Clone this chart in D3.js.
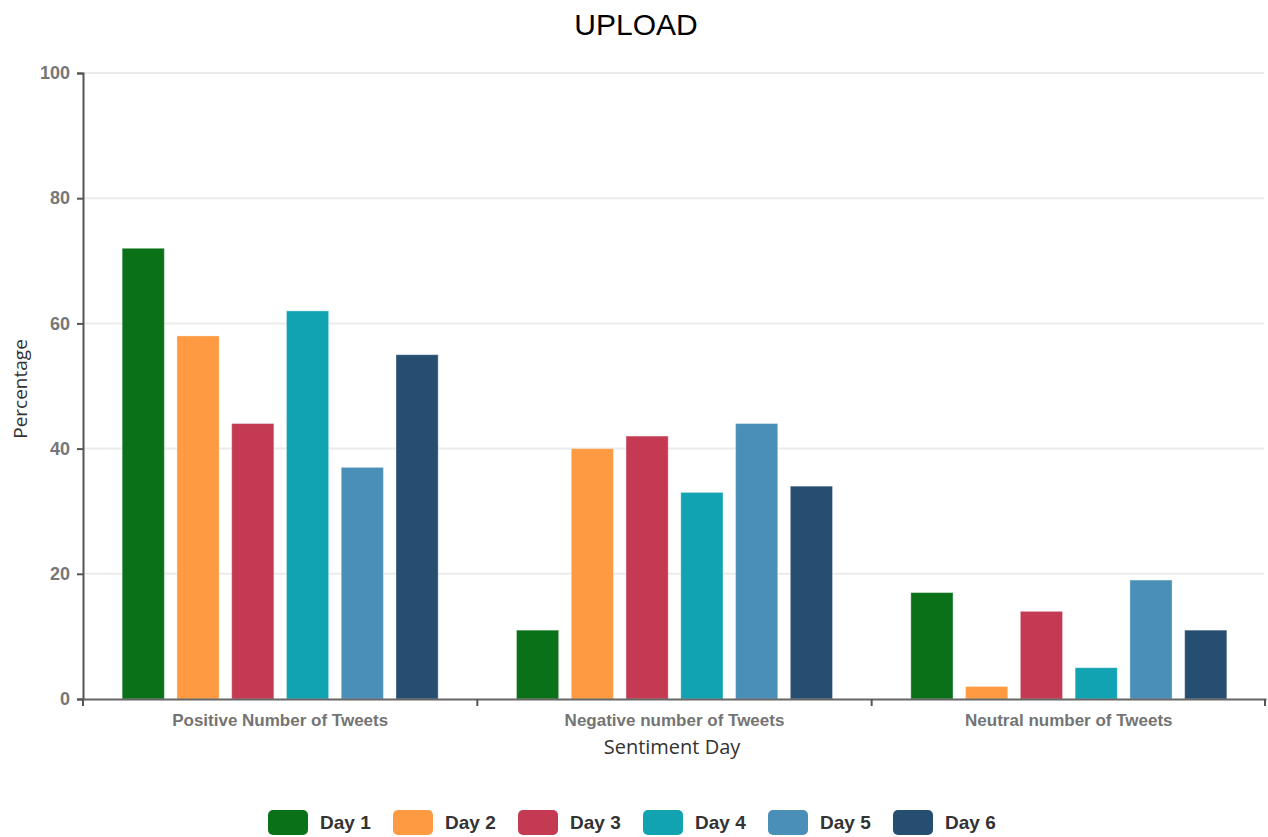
<!DOCTYPE html>
<html>
<head>
<meta charset="utf-8">
<script src="https://cdn.jsdelivr.net/npm/d3@7"></script>
<style>
  body { margin: 0; background: #fff; }
  svg { display: block; font-family: "Liberation Sans", Arial, sans-serif; }
</style>
</head>
<body>
<svg id="chart" width="1268" height="837"></svg>
<script>
// Sentiment categories along the x axis
const categories = ["Positive Number of Tweets", "Negative number of Tweets", "Neutral number of Tweets"];
// One series per day
const seriesNames = ["Day 1", "Day 2", "Day 3", "Day 4", "Day 5", "Day 6"];
const seriesColors = ["#0a7119", "#fe9a41", "#c43a52", "#11a3b2", "#4a8fb8", "#264e70"];
const day1 = [72, 11, 17];
const day2 = [58, 40, 2];
const day3 = [44, 42, 14];
const day4 = [62, 33, 5];
const day5 = [37, 44, 19];
const day6 = [55, 34, 11];
const yTicks = [0, 20, 40, 60, 80, 100];

const seriesValues = [day1, day2, day3, day4, day5, day6];

const svg = d3.select("#chart");
const margin = { left: 83, right: 2, top: 73, bottom: 138 };
const W = 1268, H = 837;
const x0 = margin.left, x1 = W - margin.right;
const yTop = margin.top, yBot = H - margin.bottom;

const x = d3.scaleBand().domain(categories).range([x0, x1]).paddingInner(0).paddingOuter(0);
const xs = d3.scaleBand().domain(seriesNames).range([0, x.bandwidth()]).paddingInner(0.23).paddingOuter(0.715);
const y = d3.scaleLinear().domain([0, 100]).range([yBot, yTop]);

// Horizontal grid lines
svg.append("g")
  .selectAll("line")
  .data(yTicks.filter(d => d > 0))
  .join("line")
  .attr("x1", x0).attr("x2", x1 - 2)
  .attr("y1", d => y(d)).attr("y2", d => y(d))
  .attr("stroke", "#ebebeb").attr("stroke-width", 2);

// Bars
const groups = svg.append("g")
  .selectAll("g")
  .data(categories)
  .join("g")
  .attr("transform", d => `translate(${x(d)},0)`);

groups.selectAll("rect")
  .data((c, ci) => seriesNames.map((s, si) => ({ s, si, v: seriesValues[si][ci] })))
  .join("rect")
  .attr("x", d => xs(d.s))
  .attr("width", xs.bandwidth())
  .attr("y", d => y(d.v))
  .attr("height", d => y(0) - y(d.v))
  .attr("fill", d => seriesColors[d.si])
  .attr("stroke", "#ffffff").attr("stroke-opacity", 0.35).attr("stroke-width", 1);

// Y axis
const yAxis = svg.append("g")
  .attr("transform", `translate(${x0},0)`)
  .call(d3.axisLeft(y).tickValues(yTicks).tickSize(6).tickPadding(7));
yAxis.select(".domain").attr("stroke", "#555").attr("stroke-width", 2);
yAxis.selectAll(".tick line").attr("stroke", "#555").attr("stroke-width", 2);
yAxis.selectAll(".tick text")
  .attr("fill", "#777").attr("font-size", 18).attr("font-weight", "bold")
  .attr("font-family", "Liberation Sans, Arial, sans-serif");

// X axis
const xAxis = svg.append("g")
  .attr("transform", `translate(0,${yBot})`)
  .call(d3.axisBottom(x).tickSize(0).tickPadding(15));
xAxis.select(".domain").attr("stroke", "#666").attr("stroke-width", 2);
xAxis.selectAll(".tick text")
  .attr("fill", "#747474").attr("font-size", 17).attr("font-weight", "bold")
  .attr("font-family", "Liberation Sans, Arial, sans-serif");
// Group separator ticks
xAxis.append("g")
  .selectAll("line")
  .data(categories.map(c => x(c)).concat([x1 - 1]))
  .join("line")
  .attr("x1", d => d).attr("x2", d => d)
  .attr("y1", 0).attr("y2", 7)
  .attr("stroke", "#555").attr("stroke-width", 2);

// Title
svg.append("text")
  .attr("x", 636).attr("y", 35)
  .attr("text-anchor", "middle")
  .attr("font-size", 30).attr("fill", "#000")
  .text("UPLOAD");

// Axis titles
svg.append("text")
  .attr("transform", `translate(27,${(yTop + yBot) / 2 + 3}) rotate(-90)`)
  .attr("text-anchor", "middle")
  .attr("font-family", "Open Sans, sans-serif")
  .attr("font-size", 19).attr("fill", "#333")
  .text("Percentage");

svg.append("text")
  .attr("x", 672).attr("y", 754)
  .attr("text-anchor", "middle")
  .attr("font-family", "Open Sans, sans-serif")
  .attr("font-size", 20).attr("fill", "#333")
  .text("Sentiment Day");

// Legend
const legendStep = 125, legendStart = 268;
const legend = svg.append("g").attr("transform", "translate(0,810)");
const items = legend.selectAll("g")
  .data(seriesNames)
  .join("g")
  .attr("transform", (d, i) => `translate(${legendStart + i * legendStep},0)`);
items.append("rect")
  .attr("width", 40).attr("height", 25).attr("rx", 5)
  .attr("fill", (d, i) => seriesColors[i]);
items.append("text")
  .attr("x", 52).attr("y", 19)
  .attr("font-size", 19).attr("font-weight", "bold").attr("fill", "#333")
  .attr("font-family", "Liberation Sans Narrow, Liberation Sans, Arial, sans-serif")
  .text(d => d);
</script>
</body>
</html>
